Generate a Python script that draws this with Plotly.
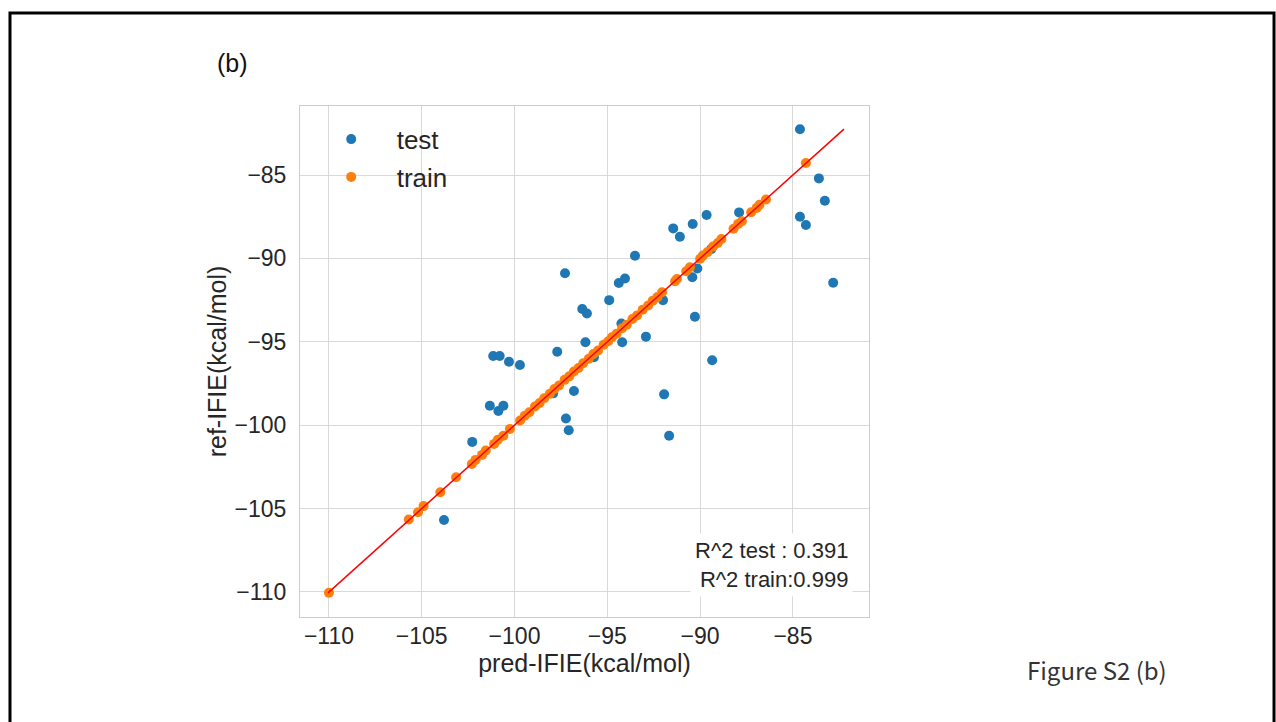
import plotly.graph_objects as go

# predicted vs reference IFIE values (kcal/mol)
test_pred = [-84.62, -83.60, -83.28, -84.62, -84.30, -82.83, -89.65, -87.90, -91.45, -91.09,
             -90.40, -93.51, -89.40, -90.15, -90.42, -94.38, -94.05, -94.90, -92.00, -96.35,
             -96.10, -94.24, -90.28, -96.18, -94.20, -92.92, -95.72, -97.70, -101.15, -100.80,
             -100.30, -99.71, -97.28, -89.35, -91.94, -91.67, -97.92, -96.80, -101.33, -100.87,
             -100.60, -97.23, -97.08, -102.28, -103.80]
test_ref = [-82.25, -85.20, -86.54, -87.50, -88.00, -91.46, -87.40, -87.24, -88.20, -88.70,
            -87.94, -89.84, -89.44, -90.60, -91.13, -91.47, -91.20, -92.50, -92.50, -93.03,
            -93.30, -93.90, -93.50, -95.03, -95.03, -94.69, -95.93, -95.60, -95.85, -95.85,
            -96.20, -96.39, -90.89, -96.10, -98.15, -100.63, -98.09, -97.95, -98.83, -99.15,
            -98.83, -99.60, -100.30, -101.00, -105.68]

train_pred = [-110.00, -105.70, -105.20, -104.90, -104.00, -103.15, -102.30, -102.10, -101.75, -101.55,
              -101.10, -100.90, -100.60, -100.25, -99.70, -99.45, -99.20, -98.90, -98.65, -98.40,
              -98.10, -97.85, -97.60, -97.30, -97.05, -96.80, -96.55, -96.30, -96.00, -95.75,
              -95.50, -95.20, -94.95, -94.75, -94.50, -94.20, -93.95, -93.65, -93.40, -93.10,
              -92.80, -92.55, -92.30, -92.05, -91.35, -91.25, -90.75, -90.55, -90.00, -89.85,
              -89.60, -89.30, -89.05, -88.85, -88.20, -87.95, -87.75, -87.25, -86.95, -86.80,
              -86.45, -84.30]
train_ref = [-110.05, -105.65, -105.22, -104.85, -104.02, -103.12, -102.33, -102.08, -101.78, -101.52,
             -101.12, -100.87, -100.63, -100.22, -99.72, -99.43, -99.22, -98.88, -98.67, -98.38,
             -98.12, -97.83, -97.62, -97.28, -97.07, -96.78, -96.57, -96.28, -96.02, -95.73,
             -95.52, -95.18, -94.97, -94.73, -94.52, -94.18, -93.97, -93.63, -93.42, -93.08,
             -92.82, -92.53, -92.32, -92.03, -91.37, -91.23, -90.77, -90.53, -90.02, -89.83,
             -89.62, -89.28, -89.07, -88.83, -88.22, -87.93, -87.77, -87.23, -86.97, -86.78,
             -86.47, -84.28]

tick_vals = [-110, -105, -100, -95, -90, -85]
r2_test = 0.391
r2_train = 0.999

# identity line spans the full range of all values
all_vals = test_pred + test_ref + train_pred + train_ref
lo, hi = min(all_vals), max(all_vals)

FONT = "Liberation Sans"
TXT = "#262626"
GRID = "#d9d9d9"

fig = go.Figure()
fig.add_trace(go.Scatter(x=test_pred, y=test_ref, mode="markers", name="test",
                         legendgroup="test",
                         marker=dict(color="#1f77b4", size=10, line=dict(width=0))))
fig.add_trace(go.Scatter(x=train_pred, y=train_ref, mode="markers", name="train",
                         legendgroup="train",
                         marker=dict(color="#ff7f0e", size=10, line=dict(width=0))))
fig.add_trace(go.Scatter(x=[lo, hi], y=[lo, hi], mode="lines", showlegend=False,
                         line=dict(color="red", width=1.5), hoverinfo="skip"))

axis_common = dict(
    tickvals=tick_vals,
    showgrid=True, gridcolor=GRID, gridwidth=1,
    showline=True, linecolor="#cccccc", linewidth=1, mirror=True,
    zeroline=False, ticks="",
    tickfont=dict(family=FONT, size=23, color=TXT),
)

fig.update_layout(
    width=1276, height=722,
    margin=dict(l=300, r=407, t=106, b=105),
    paper_bgcolor="white", plot_bgcolor="white",
    font=dict(family=FONT, color=TXT),
    xaxis=dict(range=[-111.56, -80.9], ticklabelstandoff=-2,
               title=dict(text="pred-IFIE(kcal/mol)", font=dict(family=FONT, size=25, color=TXT),
                          standoff=4),
               **axis_common),
    yaxis=dict(range=[-111.5, -80.86], ticklabelstandoff=8,
               title=dict(text="ref-IFIE(kcal/mol)", font=dict(family=FONT, size=25, color=TXT),
                          standoff=0),
               **axis_common),
    legend=dict(x=0.010, y=0.981, xanchor="left", yanchor="top",
                bgcolor="rgba(0,0,0,0)", borderwidth=0,
                font=dict(family=FONT, size=26, color=TXT),
                itemwidth=81, tracegroupgap=1),
    showlegend=True,
)

fig.add_annotation(
    xref="paper", yref="paper", x=0.972, y=0.1027, xanchor="right", yanchor="middle",
    text=f"R^2 test : {r2_test}<br>R^2 train:{r2_train}", align="right", showarrow=False,
    font=dict(family=FONT, size=22, color=TXT), bgcolor="white", borderpad=4,
)
fig.add_annotation(
    xref="paper", yref="paper", x=-0.1178, y=1.084, xanchor="center", yanchor="middle",
    text="(b)", showarrow=False, font=dict(family=FONT, size=25, color="#111111"),
)
fig.add_annotation(
    xref="paper", yref="paper", x=1.4007, y=-0.1018, xanchor="center", yanchor="middle",
    text="Figure S2 (b)", showarrow=False,
    font=dict(family="Noto Sans CJK JP", size=24, color="#333333"),
)

# page frame
fig.add_shape(type="rect", xref="paper", yref="paper",
              x0=-0.5097, x1=1.7118, y0=-0.25, y1=1.182,
              line=dict(color="black", width=3), fillcolor="rgba(0,0,0,0)", layer="below")

fig.write_html("out.html")
